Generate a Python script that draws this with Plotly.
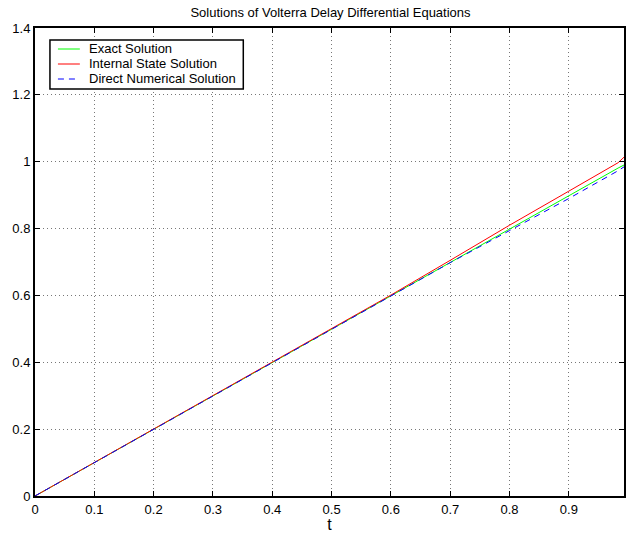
import plotly.graph_objects as go

t = [0, 0.1, 0.2, 0.3, 0.4, 0.5, 0.6, 0.7, 0.8, 0.9, 0.983, 0.995]
exact = [0, 0.1, 0.2, 0.3, 0.4, 0.5, 0.6, 0.7, 0.799, 0.898, 0.981, 0.992]
internal = [0, 0.1, 0.2, 0.3, 0.4, 0.5, 0.601, 0.705, 0.81, 0.912, 0.997, 1.017]
direct = [0, 0.1, 0.2, 0.3, 0.4, 0.5, 0.6, 0.698, 0.794, 0.89, 0.973, 0.987]

xticks = [0, 0.1, 0.2, 0.3, 0.4, 0.5, 0.6, 0.7, 0.8, 0.9]
yticks = [0, 0.2, 0.4, 0.6, 0.8, 1.0, 1.2, 1.4]
ytext = ["0", "0.2", "0.4", "0.6", "0.8", "1", "1.2", "1.4"]

names = ["Exact Solution", "Internal State Solution", "Direct Numerical Solution"]
colors = ["#00ff00", "#ff0000", "#0000ff"]
dashes = ["solid", "solid", "6px,5px"]
series = [exact, internal, direct]

W, H = 626, 533
L, R, T, B = 35, 0, 28, 37
PW, PH = W - L - R, H - T - B

def px(x):
    return (x - L) / PW

def py(y):
    return (H - B - y) / PH

fig = go.Figure()
for name, col, dsh, ys in zip(names, colors, dashes, series):
    fig.add_trace(go.Scatter(x=t, y=ys, mode="lines", name=name,
                             line=dict(color=col, width=1, dash=dsh), showlegend=False))

axis_common = dict(
    showline=True, linecolor="black", linewidth=2, mirror="allticks",
    ticks="inside", ticklen=5, tickcolor="black", tickwidth=1,
    showgrid=True, gridcolor="#777777", griddash="1px,3px", gridwidth=1,
    zeroline=False, tickfont=dict(size=13, color="black"),
)

# manual legend box (MATLAB style)
shapes = [dict(type="rect", xref="paper", yref="paper",
               x0=px(50), x1=px(244), y0=py(89), y1=py(40),
               line=dict(color="black", width=1.5), fillcolor="white", layer="above")]
annotations = []
rows = [49, 64, 79]
for name, col, dsh, ry in zip(names, colors, dashes, rows):
    shapes.append(dict(type="line", xref="paper", yref="paper",
                       x0=px(58), x1=px(80), y0=py(ry), y1=py(ry),
                       line=dict(color=col, width=1, dash=dsh), layer="above"))
    annotations.append(dict(text=name, xref="paper", yref="paper",
                            x=px(87), y=py(ry), xanchor="left", yanchor="middle",
                            showarrow=False, font=dict(size=13, color="black")))

fig.update_layout(
    width=W, height=H,
    margin=dict(l=L, r=R, t=T, b=B),
    paper_bgcolor="white", plot_bgcolor="white",
    font=dict(family="Liberation Sans, Arial, sans-serif", size=13, color="black"),
    title=dict(text="Solutions of Volterra Delay Differential Equations",
               x=(L + W) / 2 / W, xanchor="center", y=1 - 12 / H, yanchor="middle",
               font=dict(size=13)),
    xaxis=dict(range=[0, 0.993], tickvals=xticks, ticktext=[str(v) for v in xticks],
               title=dict(text="t", standoff=2), **axis_common),
    yaxis=dict(range=[0, 1.4], tickvals=yticks, ticktext=ytext, **axis_common),
    shapes=shapes, annotations=annotations,
    showlegend=False,
)

fig.write_html("out.html")
